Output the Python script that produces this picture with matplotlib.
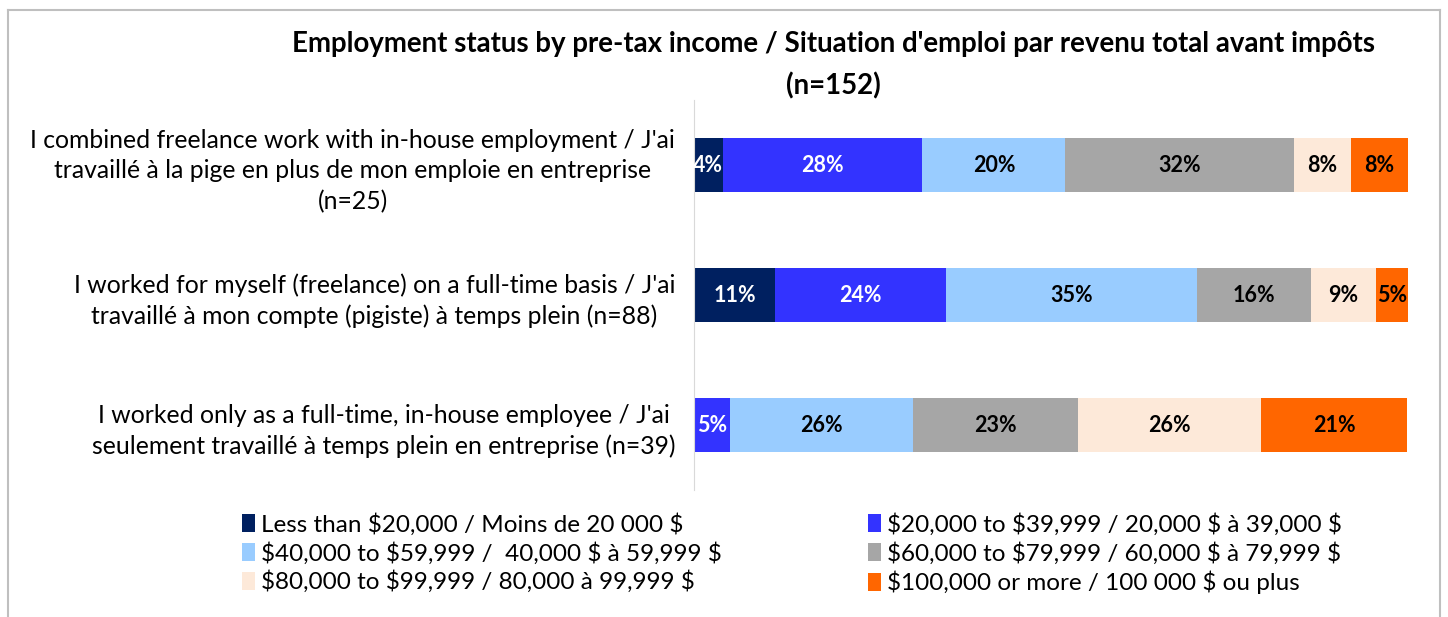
import matplotlib.pyplot as plt
from matplotlib.patches import Patch
from matplotlib.lines import Line2D

plt.rcParams["font.family"] = ["Lato", "DejaVu Sans"]

categories = [
    "I combined freelance work with in-house employment / J'ai\ntravaillé à la pige en plus de mon emploie en entreprise\n(n=25)",
    "I worked for myself (freelance) on a full-time basis / J'ai\ntravaillé à mon compte (pigiste) à temps plein (n=88)",
    "I worked only as a full-time, in-house employee / J'ai\nseulement travaillé à temps plein en entreprise (n=39)",
]
series_names = [
    "Less than \\$20,000 / Moins de 20 000 \\$",
    "\\$20,000 to \\$39,999 / 20,000 \\$ à 39,000 \\$",
    "\\$40,000 to \\$59,999 /  40,000 \\$ à 59,999 \\$",
    "\\$60,000 to \\$79,999 / 60,000 \\$ à 79,999 \\$",
    "\\$80,000 to \\$99,999 / 80,000 à 99,999 \\$",
    "\\$100,000 or more / 100 000 \\$ ou plus",
]
# percent per category (rows) for each income band (columns)
values = [
    [4.0, 28.0, 20.0, 32.0, 8.0, 8.0],
    [11.4, 23.9, 35.2, 15.9, 9.1, 4.5],
    [0.0, 5.1, 25.6, 23.1, 25.6, 20.5],
]
colors = ["#002060", "#3333FF", "#99CCFF", "#A6A6A6", "#FDE9D9", "#FF6600"]
label_colors = ["white", "white", "black", "black", "black", "black"]

fig = plt.figure(figsize=(14.48, 6.17), dpi=100)
ax = fig.add_axes([694 / 1448, 1 - 490 / 617, 714 / 1448, 390 / 617])

ypos = list(range(len(categories)))
left = [0.0] * len(categories)
for j, name in enumerate(series_names):
    widths = [row[j] for row in values]
    bars = ax.barh(ypos, widths, left=left, height=0.41, color=colors[j], label=name)
    for k, b in enumerate(bars):
        w = widths[k]
        if w > 0:
            ax.text(left[k] + w / 2, ypos[k], f"{int(w + 0.5)}%", ha="center", va="center",
                    color=label_colors[j], fontsize=15.5, fontweight="bold")
    left = [l + w for l, w in zip(left, widths)]

ax.set_xlim(0, 100)
ax.set_ylim(2.5, -0.5)
ax.set_yticks(ypos)
ax.set_yticklabels(categories, fontsize=17.8, multialignment="center", linespacing=1.4)
ax.tick_params(axis="y", length=0, pad=13.5)
ax.set_xticks([])
for s in ["top", "right", "bottom"]:
    ax.spines[s].set_visible(False)
ax.spines["left"].set_color("#D9D9D9")

fig.text(833 / 1448, 1 - 44 / 617, "Employment status by pre-tax income / Situation d'emploi par revenu total avant impôts",
         ha="center", va="center", fontsize=19.9, fontweight="bold")
fig.text(833 / 1448, 1 - 86 / 617, "(n=152)", ha="center", va="center", fontsize=19.9, fontweight="bold")

# legend filled row by row, like the original
order = [0, 2, 4, 1, 3, 5]
handles = [Patch(facecolor=colors[i], edgecolor="none") for i in order]
labels = [series_names[i] for i in order]
fig.legend(handles, labels, ncol=2, loc="upper left", bbox_to_anchor=(232 / 1448, 1 - 503 / 617),
           frameon=False, fontsize=17.5, handlelength=0.55, handleheight=0.75, handletextpad=0.25,
           columnspacing=6.0, labelspacing=0.26, borderaxespad=0)

# outer frame
frame = dict(color="#BFBFBF", lw=1.5, transform=fig.transFigure)
fig.add_artist(Line2D([8 / 1448, 1440 / 1448], [1 - 10 / 617, 1 - 10 / 617], **frame))
fig.add_artist(Line2D([8 / 1448, 8 / 1448], [0, 1 - 10 / 617], **frame))
fig.add_artist(Line2D([1440 / 1448, 1440 / 1448], [0, 1 - 10 / 617], **frame))

fig.savefig("out.png", dpi=100)
